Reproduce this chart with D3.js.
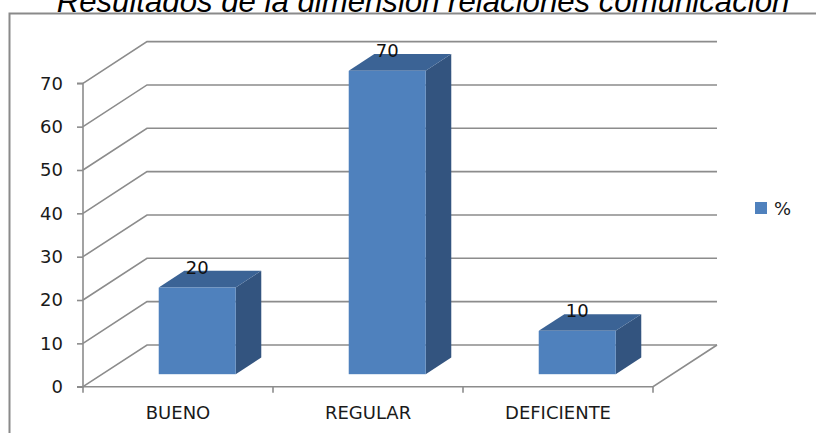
<!DOCTYPE html>
<html>
<head>
<meta charset="utf-8">
<script src="https://cdn.jsdelivr.net/npm/d3@7/dist/d3.min.js"></script>
<style>
html,body{margin:0;padding:0;background:#fff;}
svg{display:block;}
</style>
</head>
<body>
<svg id="chart" width="816" height="433"></svg>
<script>
const title = "Resultados de la dimensión relaciones comunicación";
const categories = ["BUENO", "REGULAR", "DEFICIENTE"];
const seriesName = "%";
const values = [20, 70, 10];
const yTicks = [0, 10, 20, 30, 40, 50, 60, 70];

const W = 816, H = 433;
const svg = d3.select("#chart");

// geometry of the 3D box
const depthDx = 64, depthDy = -41.7;
const tFront = 0.3, tBack = 0.7;
const gridColor = "#8c8c8c";
const fontMain = "DejaVu Sans, sans-serif";

const x = d3.scaleBand().domain(categories).range([83, 653]).paddingInner(0).paddingOuter(0);
const y = d3.scaleLinear().domain([0, 70]).range([386.7, 83.3]);
const barW = x.bandwidth() * 0.405;

// chart border
svg.append("path")
  .attr("d", `M9.5,${H+2} L9.5,13.5 L${W+2},13.5`)
  .attr("fill", "none").attr("stroke", "#8a8a8a").attr("stroke-width", 2);

// title (partly cut at the top edge, as in the reference)
const t = svg.append("text")
  .attr("x", 423).attr("y", 11.5)
  .attr("text-anchor", "middle")
  .attr("font-family", "Liberation Sans, Arial, sans-serif")
  .attr("font-style", "italic")
  .attr("font-size", 26)
  .attr("fill", "#000")
  .text(title);
const tw = t.node().getComputedTextLength();
t.attr("font-size", 26 * 733 / tw);

const g = svg.append("g");
const x0 = x.range()[0], x1 = x.range()[1];

// back wall gridlines + left wall diagonals
yTicks.forEach(v => {
  const yy = y(v);
  g.append("path")
    .attr("d", `M${x0},${yy} L${x0 + depthDx},${yy + depthDy} L${x1 + depthDx},${yy + depthDy}`)
    .attr("fill", "none").attr("stroke", gridColor).attr("stroke-width", 1.6);
});

// floor outline: right diagonal + front edge
g.append("path")
  .attr("d", `M${x1 + depthDx},${y(0) + depthDy} L${x1},${y(0)} L${x0},${y(0)}`)
  .attr("fill", "none").attr("stroke", gridColor).attr("stroke-width", 1.6);

// value axis
const yAxis = d3.axisLeft(y).tickValues(yTicks).tickSize(6).tickPadding(14);
const ya = svg.append("g").attr("transform", `translate(${x0},0)`).call(yAxis);
ya.select(".domain").attr("stroke", gridColor).attr("stroke-width", 1.6).attr("d", `M-6,${y(70)}H0V${y(0)}H-6`);
ya.selectAll(".tick line").attr("stroke", gridColor).attr("stroke-width", 1.6);
ya.selectAll(".tick text")
  .attr("font-family", fontMain).attr("font-size", 18).attr("fill", "#1a1a1a");

// category axis
const xAxis = d3.axisBottom(x).tickSize(0).tickPadding(20);
const xa = svg.append("g").attr("transform", `translate(0,${y(0)})`).call(xAxis);
xa.select(".domain").remove();
xa.selectAll(".tick text")
  .attr("font-family", fontMain).attr("font-size", 18).attr("fill", "#1a1a1a");
// category tick marks at band edges
const edges = categories.map(c => x(c)).concat([x1]);
svg.append("g").selectAll("line").data(edges).join("line")
  .attr("x1", d => d).attr("x2", d => d)
  .attr("y1", y(0)).attr("y2", y(0) + 6)
  .attr("stroke", gridColor).attr("stroke-width", 1.6);

// bars
const colFront = "#4f81bd", colTop = "#3b6395", colSide = "#33547f";
const bars = svg.append("g");
categories.forEach((c, i) => {
  const v = values[i];
  const cx = x(c) + x.bandwidth() / 2;
  const fx0 = cx - barW / 2 + depthDx * tFront;
  const fx1 = cx + barW / 2 + depthDx * tFront;
  const fyB = y(0) + depthDy * tFront;
  const fyT = y(v) + depthDy * tFront;
  const ddx = depthDx * (tBack - tFront), ddy = depthDy * (tBack - tFront);
  // side
  bars.append("path")
    .attr("d", `M${fx1},${fyT} L${fx1 + ddx},${fyT + ddy} L${fx1 + ddx},${fyB + ddy} L${fx1},${fyB} Z`)
    .attr("fill", colSide);
  // top
  bars.append("path")
    .attr("d", `M${fx0},${fyT} L${fx0 + ddx},${fyT + ddy} L${fx1 + ddx},${fyT + ddy} L${fx1},${fyT} Z`)
    .attr("fill", colTop);
  // front
  bars.append("rect")
    .attr("x", fx0).attr("y", fyT).attr("width", fx1 - fx0).attr("height", fyB - fyT)
    .attr("fill", colFront);
  // data label
  bars.append("text")
    .attr("x", (fx0 + fx1) / 2).attr("y", fyT - 14)
    .attr("text-anchor", "middle")
    .attr("font-family", fontMain).attr("font-size", 18).attr("fill", "#111")
    .text(v);
});

// legend
const lg = svg.append("g").attr("transform", "translate(755,202)");
lg.append("rect").attr("width", 12).attr("height", 12).attr("fill", colFront);
lg.append("text").attr("x", 19).attr("y", 12.5)
  .attr("font-family", fontMain).attr("font-size", 18).attr("fill", "#1a1a1a")
  .text(seriesName);
</script>
</body>
</html>
